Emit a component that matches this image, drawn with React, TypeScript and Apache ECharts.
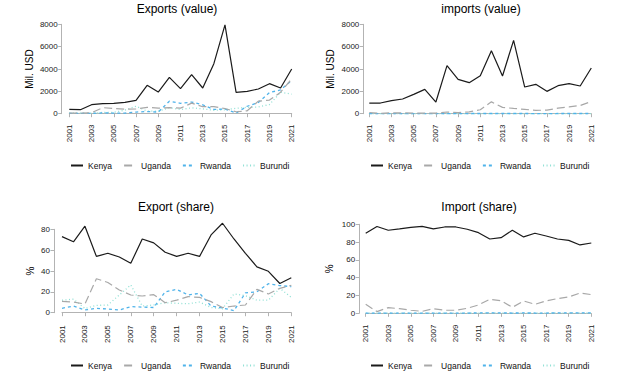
import React, { useEffect, useRef } from "react";
import * as echarts from "echarts";

const years = ["2001","2002","2003","2004","2005","2006","2007","2008","2009","2010","2011","2012","2013","2014","2015","2016","2017","2018","2019","2020","2021"];
const countries = ["Kenya", "Uganda", "Rwanda", "Burundi"];

// Exports (value), Mil. USD
const expKenya = [390, 360, 806, 895, 925, 1015, 1194, 2537, 1940, 3254, 2239, 3493, 2299, 4478, 7950, 1910, 2000, 2209, 2687, 2299, 4000];
const expUganda = [58, 54, 81, 540, 471, 414, 428, 574, 500, 539, 498, 944, 626, 636, 463, 173, 260, 1124, 1218, 1921, 3119];
const expRwanda = [22, 34, 25, 70, 57, 49, 146, 194, 145, 1122, 929, 1042, 792, 384, 417, 54, 667, 1004, 1882, 2135, 2976];
const expBurundi = [64, 69, 39, 116, 120, 323, 670, 230, 214, 539, 373, 527, 434, 300, 352, 486, 572, 602, 812, 1921, 1750];

// Imports (value), Mil. USD
const impKenya = [955, 955, 1164, 1313, 1731, 2179, 1045, 4298, 3075, 2776, 3403, 5642, 3373, 6567, 2388, 2627, 2000, 2507, 2687, 2478, 4089];
const impUganda = [107, 19, 80, 72, 61, 49, 57, 151, 108, 165, 353, 1061, 563, 472, 387, 295, 320, 495, 603, 736, 1087];
const impRwanda = [12, 10, 14, 12, 11, 10, 13, 15, 14, 16, 18, 20, 18, 17, 16, 15, 14, 16, 18, 17, 20];
const impBurundi = [5, 6, 5, 6, 7, 6, 7, 8, 7, 9, 10, 11, 9, 8, 9, 8, 7, 8, 9, 10, 9];

// Export (share), %
const shrExpKenya = [73, 68, 83, 54, 57, 53.4, 47.4, 70.7, 67, 58, 54, 57, 54, 74.6, 85.8, 70.7, 57, 44, 39.7, 28, 33.6];
const shrExpUganda = [10.9, 10.2, 8.3, 32.6, 29, 21.8, 17, 16, 17.3, 9.6, 12, 15.4, 14.7, 10.6, 5, 6.4, 7.4, 22.4, 18, 23.4, 26.2];
const shrExpRwanda = [4.2, 6.4, 2.6, 4.2, 3.5, 2.6, 5.8, 5.4, 5, 20, 22.4, 17, 18.6, 6.4, 4.5, 2, 19, 20, 27.8, 26, 25];
const shrExpBurundi = [12, 13, 4, 7, 7.4, 17, 26.6, 6.4, 7.4, 9.6, 9, 8.6, 10.2, 5, 3.8, 18, 16.3, 12, 12, 23.4, 14.7];

// Import (share), %
const shrImpKenya = [89.9, 97.5, 93.3, 94.8, 96.6, 97.6, 94.8, 97, 97, 94.4, 90.6, 83.5, 85, 93.3, 85.8, 89.9, 86.9, 83.5, 82, 76.8, 79];
const shrImpUganda = [10.1, 1.9, 6.4, 5.2, 3.4, 2.2, 5.2, 3.4, 3.4, 5.6, 9.4, 15.7, 14.2, 6.7, 13.9, 10.1, 13.9, 16.5, 18.4, 22.8, 21];
const shrImpRwanda = [0.3, 0.3, 0.2, 0.3, 0.3, 0.2, 0.3, 0.3, 0.3, 0.3, 0.4, 0.5, 0.4, 0.3, 0.4, 0.3, 0.3, 0.4, 0.4, 0.4, 0.5];
const shrImpBurundi = [0.1, 0.1, 0.1, 0.1, 0.1, 0.1, 0.1, 0.1, 0.1, 0.1, 0.1, 0.1, 0.1, 0.1, 0.1, 0.1, 0.1, 0.1, 0.1, 0.1, 0.1];

const titles = ["Exports (value)", "imports (value)", "Export (share)", "Import (share)"];
const yNames = ["Mil. USD", "Mil. USD", "%", "%"];
const yMax = [8000, 8000, 80, 100];
const yInterval = [2000, 2000, 20, 20];

const FONT = "'Liberation Sans', Arial, Helvetica, sans-serif";
const AXIS_COLOR = "#b3b3b3";

const styles = [
  { color: "#1a1a1a", width: 1.2, type: "solid" as any },
  { color: "#a8a8a8", width: 1.2, type: [8, 4] as any },
  { color: "#4fb3ea", width: 1.3, type: [3, 3] as any },
  { color: "#8fe0d4", width: 1.3, type: [1, 2.5] as any },
];

const grids = [
  { left: 69.3, top: 24.3, width: 222.4, height: 89.4, xOff: 6.3, yOff: 7.6, nameGap: 27, titleX: 177, titleY: 3, legX: 70, legY: 161 },
  { left: 369.3, top: 24.3, width: 222, height: 89.4, xOff: 6.3, yOff: 6, nameGap: 28, titleX: 481, titleY: 3, legX: 370, legY: 161 },
  { left: 62, top: 229.3, width: 229.3, height: 83.4, xOff: 8, yOff: 8, nameGap: 19, titleX: 176, titleY: 201, legX: 70, legY: 361 },
  { left: 365.7, top: 224.3, width: 225.6, height: 89, xOff: 6.7, yOff: 6.5, nameGap: 25, titleX: 479, titleY: 201, legX: 370, legY: 361 },
];

const panelData = [
  [expKenya, expUganda, expRwanda, expBurundi],
  [impKenya, impUganda, impRwanda, impBurundi],
  [shrExpKenya, shrExpUganda, shrExpRwanda, shrExpBurundi],
  [shrImpKenya, shrImpUganda, shrImpRwanda, shrImpBurundi],
];

export default function App() {
  const ref = useRef<HTMLDivElement>(null);
  useEffect(() => {
    if (!ref.current) return;
    const chart = echarts.init(ref.current, null, { renderer: "svg" });
    const option: any = {
      animation: false,
      backgroundColor: "#ffffff",
      textStyle: { fontFamily: FONT },
      title: grids.map((g, i) => ({
        text: titles[i],
        left: g.titleX,
        top: g.titleY,
        textAlign: "center",
        padding: 0,
        textStyle: { fontSize: 12, fontWeight: "normal", color: "#000", fontFamily: FONT },
      })),
      legend: grids.map((g) => ({
        data: countries,
        left: g.legX,
        top: g.legY,
        itemWidth: 12,
        itemHeight: 10,
        itemGap: 11,
        padding: 0,
        itemStyle: { opacity: 0 },
        textStyle: { fontSize: 8.5, color: "#111", fontFamily: FONT },
      })),
      grid: grids.map((g) => ({ left: g.left, top: g.top, width: g.width, height: g.height, containLabel: false })),
      xAxis: grids.map((g, i) => ({
        type: "category",
        gridIndex: i,
        data: years,
        boundaryGap: false,
        offset: g.xOff,
        axisLine: { show: true, lineStyle: { color: AXIS_COLOR, width: 1 } },
        axisTick: { show: true, interval: 1, length: 3.5, lineStyle: { color: AXIS_COLOR } },
        axisLabel: { interval: 1, rotate: 90, fontSize: 8, margin: 4.5, color: "#222", fontFamily: FONT },
        splitLine: { show: false },
      })),
      yAxis: grids.map((g, i) => ({
        type: "value",
        gridIndex: i,
        min: 0,
        max: yMax[i],
        interval: yInterval[i],
        offset: g.yOff,
        name: yNames[i],
        nameLocation: "middle",
        nameGap: g.nameGap,
        nameTextStyle: { fontSize: 10, color: "#000", fontFamily: FONT },
        axisLine: { show: true, lineStyle: { color: AXIS_COLOR, width: 1 } },
        axisTick: { show: true, length: 3.5, lineStyle: { color: AXIS_COLOR } },
        axisLabel: { fontSize: 8, margin: 4, color: "#222", fontFamily: FONT, formatter: (v: number) => String(v) },
        splitLine: { show: false },
      })),
      series: panelData.flatMap((arrs, p) =>
        arrs.map((d, k) => ({
          name: countries[k],
          type: "line",
          xAxisIndex: p,
          yAxisIndex: p,
          data: d,
          symbol: "none",
          clip: false,
          z: 10 - k,
          lineStyle: styles[k],
          itemStyle: { color: styles[k].color },
        }))
      ),
    };
    chart.setOption(option);
    return () => chart.dispose();
  }, []);
  return <div ref={ref} style={{ position: "absolute", left: 0, top: 0, width: 620, height: 380 }} />;
}
